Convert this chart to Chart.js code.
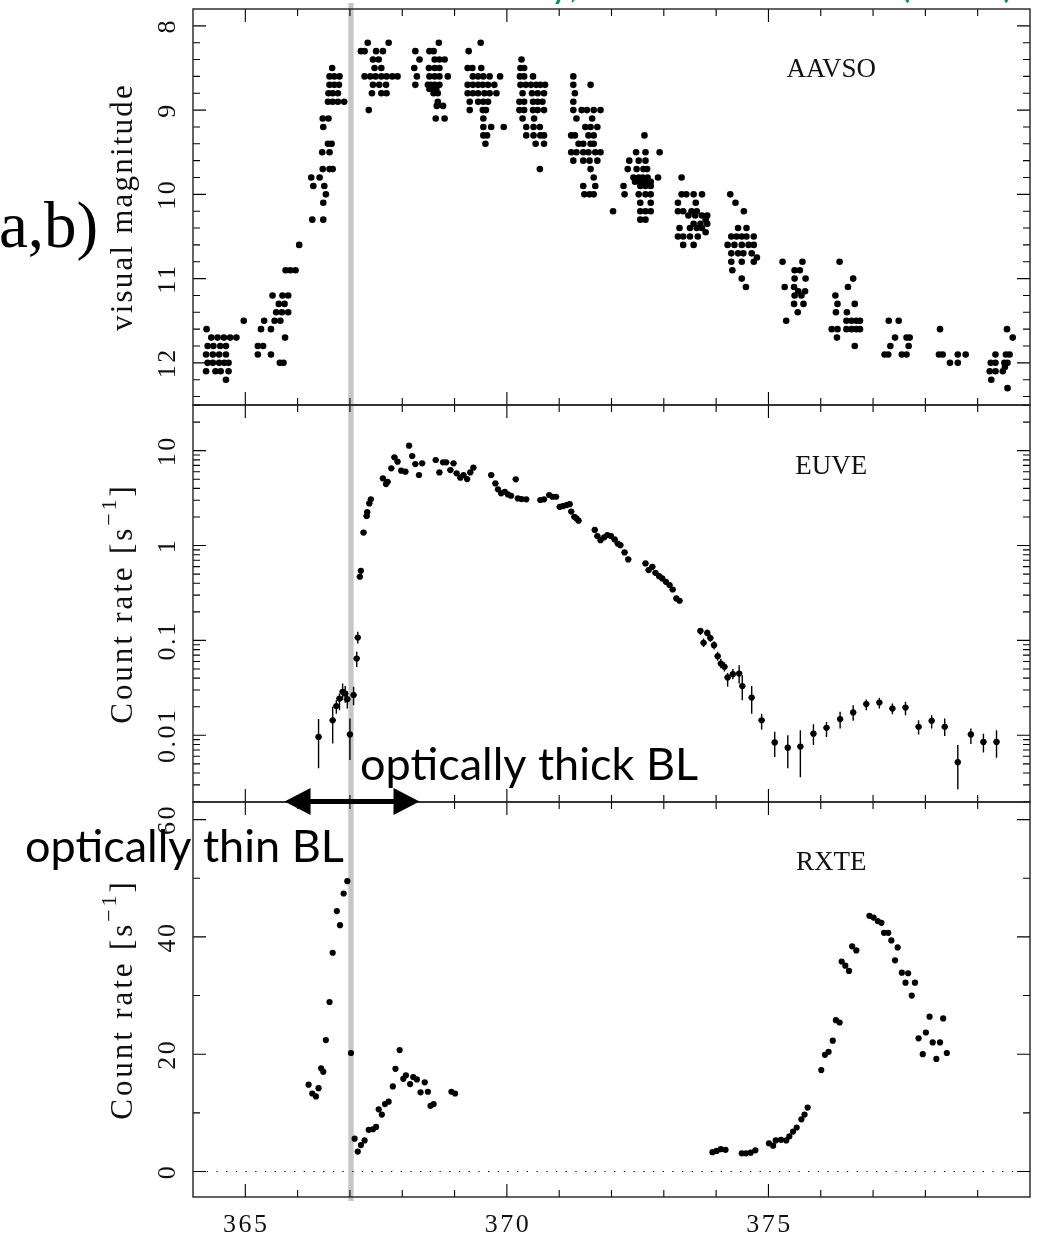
<!DOCTYPE html>
<html>
<head>
<meta charset="utf-8">
<script src="https://cdn.jsdelivr.net/npm/chart.js@4.4.1/dist/chart.umd.min.js"></script>
<style>
  html, body { margin: 0; padding: 0; background: #fff; }
  #wrap { position: relative; width: 1039px; height: 1234px; overflow: hidden; }
  #wrap canvas { position: absolute; left: 0; top: 0; }
</style>
</head>
<body>
<div id="wrap">
  <canvas id="c1" width="1039" height="1234"></canvas>
  <canvas id="c2" width="1039" height="1234"></canvas>
  <canvas id="c3" width="1039" height="1234"></canvas>
</div>
<script>
/* ---- AAVSO visual estimates: [day, magnitude] ---- */
const aavso = [
  [364.26,11.6],[364.35,11.7],[364.47,11.7],[364.59,11.7],[364.71,11.7],[364.83,11.7],
  [364.28,11.8],[364.39,11.8],[364.52,11.8],[364.63,11.8],
  [364.25,11.9],[364.38,11.9],[364.50,11.9],[364.63,11.9],
  [364.28,12.0],[364.38,12.0],[364.50,12.0],[364.60,12.0],[364.68,12.0],
  [364.25,12.1],[364.43,12.1],[364.53,12.1],[364.68,12.1],[364.63,12.2],[364.97,11.5],

  [365.24,11.8],[365.34,11.8],[365.24,11.9],[365.49,11.9],[365.30,11.6],[365.49,11.6],
  [365.36,11.5],[365.56,11.5],[365.67,11.5],[365.59,11.4],[365.70,11.4],[365.82,11.4],
  [365.64,11.3],[365.75,11.3],[365.52,11.2],[365.71,11.2],[365.82,11.2],[365.76,11.7],
  [365.66,12.0],[365.73,12.0],[365.77,10.9],[365.86,10.9],[365.96,10.9],[366.03,10.6],

  [366.28,10.3],[366.49,10.3],[366.54,10.0],[366.49,10.1],[366.26,9.8],[366.42,9.8],
  [366.30,9.9],[366.51,9.9],[366.48,9.7],[366.61,9.7],[366.67,9.7],[366.47,9.5],[366.61,9.5],
  [366.58,9.4],[366.65,9.4],[366.49,9.2],[366.48,9.1],[366.59,9.1],
  [366.66,8.5],[366.61,8.6],[366.70,8.6],[366.80,8.6],[366.61,8.7],[366.70,8.7],[366.79,8.7],
  [366.59,8.8],[366.67,8.8],[366.77,8.8],[366.58,8.9],[366.67,8.9],[366.77,8.9],[366.89,8.9],

  [367.34,8.2],[367.74,8.2],[367.21,8.3],[367.28,8.3],[367.50,8.3],[367.63,8.3],
  [367.44,8.4],[367.55,8.4],[367.47,8.5],[367.60,8.5],
  [367.28,8.6],[367.39,8.6],[367.49,8.6],[367.60,8.6],[367.70,8.6],[367.81,8.6],[367.91,8.6],
  [367.44,8.7],[367.56,8.7],[367.69,8.7],[367.42,8.8],[367.60,8.8],[367.70,8.8],[367.36,9.0],

  [368.70,8.2],[368.25,8.3],[368.52,8.3],[368.60,8.3],
  [368.33,8.4],[368.62,8.4],[368.71,8.4],[368.81,8.4],
  [368.23,8.5],[368.51,8.5],[368.62,8.5],[368.71,8.5],
  [368.28,8.6],[368.52,8.6],[368.62,8.6],[368.71,8.6],[368.87,8.6],
  [368.25,8.7],[368.49,8.7],[368.55,8.7],[368.62,8.7],[368.71,8.7],
  [368.52,8.75],[368.58,8.75],[368.65,8.75],[368.60,8.8],[368.68,8.8],[368.68,8.9],
  [368.66,8.95],[368.78,8.95],[368.64,9.1],[368.81,9.1],

  [369.50,8.2],[369.27,8.3],[369.25,8.5],[369.34,8.5],[369.51,8.5],
  [369.35,8.6],[369.45,8.6],[369.55,8.6],[369.67,8.6],[369.87,8.6],
  [369.25,8.7],[369.35,8.7],[369.45,8.7],[369.54,8.7],[369.64,8.7],[369.76,8.7],
  [369.25,8.8],[369.35,8.8],[369.45,8.8],[369.57,8.8],[369.67,8.8],[369.80,8.8],
  [369.29,8.9],[369.45,8.9],[369.55,8.9],[369.64,8.9],[369.29,9.0],[369.54,9.0],[369.60,9.0],
  [369.55,9.1],[369.55,9.2],[369.70,9.2],[369.94,9.2],[369.55,9.3],[369.62,9.3],[369.59,9.4],

  [370.28,8.4],[370.26,8.5],[370.33,8.5],[370.25,8.6],[370.33,8.6],[370.50,8.6],
  [370.26,8.7],[370.36,8.7],[370.46,8.7],[370.56,8.7],[370.64,8.7],[370.73,8.7],
  [370.30,8.8],[370.48,8.8],[370.59,8.8],[370.71,8.8],
  [370.24,8.9],[370.33,8.9],[370.50,8.9],[370.59,8.9],[370.68,8.9],
  [370.24,9.0],[370.33,9.0],[370.50,9.0],[370.59,9.0],[370.71,9.0],
  [370.30,9.1],[370.52,9.1],[370.37,9.2],[370.51,9.2],[370.63,9.2],
  [370.37,9.3],[370.51,9.3],[370.64,9.3],[370.71,9.3],[370.55,9.4],[370.71,9.4],[370.63,9.7],

  [371.27,8.6],[371.27,8.7],[371.60,8.7],[371.30,8.8],[371.27,8.9],
  [371.27,9.0],[371.43,9.0],[371.53,9.0],[371.66,9.0],[371.79,9.0],
  [371.33,9.1],[371.63,9.1],[371.50,9.2],[371.60,9.2],[371.73,9.2],
  [371.23,9.3],[371.30,9.3],[371.56,9.3],[371.66,9.3],
  [371.37,9.4],[371.46,9.4],[371.60,9.4],[371.66,9.4],
  [371.23,9.5],[371.33,9.5],[371.46,9.5],[371.56,9.5],[371.69,9.5],[371.79,9.5],
  [371.27,9.6],[371.46,9.6],[371.58,9.6],[371.73,9.6],[371.60,9.7],[371.66,9.8],
  [371.46,9.9],[371.69,9.9],[371.48,10.0],[371.58,10.0],[371.66,10.0],

  [372.03,10.2],[372.63,9.3],[372.47,9.5],[372.65,9.5],[372.92,9.5],
  [372.34,9.6],[372.52,9.6],[372.65,9.6],[372.31,9.7],[372.48,9.7],[372.61,9.7],[372.68,9.7],
  [372.42,9.8],[372.52,9.8],[372.60,9.8],[372.69,9.8],[372.89,9.8],
  [372.45,9.85],[372.55,9.85],[372.65,9.85],[372.75,9.85],
  [372.23,9.9],[372.55,9.9],[372.65,9.9],[372.75,9.9],
  [372.25,10.0],[372.52,10.0],[372.65,10.0],[372.75,10.0],[372.55,10.1],[372.75,10.1],
  [372.55,10.2],[372.65,10.2],[372.75,10.2],[372.55,10.3],[372.65,10.3],

  [373.34,9.8],[373.34,10.0],[373.43,10.0],[373.57,10.0],[373.73,10.0],[373.27,10.1],[373.61,10.1],
  [373.27,10.2],[373.37,10.2],[373.53,10.2],[373.63,10.2],
  [373.47,10.25],[373.60,10.25],[373.73,10.25],[373.83,10.25],[373.80,10.3],
  [373.57,10.35],[373.70,10.35],[373.83,10.35],[373.30,10.4],[373.50,10.4],[373.63,10.4],[373.73,10.4],
  [373.80,10.45],[373.27,10.5],[373.37,10.5],[373.50,10.5],[373.65,10.5],[373.37,10.6],[373.57,10.6],

  [374.27,10.0],[374.37,10.1],[374.53,10.2],[374.42,10.4],[374.58,10.4],
  [374.29,10.5],[374.39,10.5],[374.49,10.5],[374.58,10.5],[374.72,10.5],
  [374.22,10.6],[374.35,10.6],[374.49,10.6],[374.62,10.6],[374.72,10.6],
  [374.29,10.7],[374.42,10.7],[374.52,10.7],[374.68,10.7],[374.78,10.75],
  [374.29,10.8],[374.49,10.8],[374.72,10.8],[374.31,10.9],[374.49,11.0],[374.57,11.1],

  [375.27,10.8],[375.65,10.8],[375.50,10.9],[375.60,10.9],[375.50,11.0],[375.71,11.0],
  [375.31,11.1],[375.49,11.1],[375.57,11.15],[375.70,11.15],[375.50,11.2],[375.63,11.2],
  [375.49,11.3],[375.67,11.3],[375.56,11.4],[375.34,11.5],

  [376.36,10.8],[376.62,11.0],[376.52,11.1],[376.28,11.2],[376.32,11.3],[376.65,11.3],
  [376.29,11.4],[376.50,11.4],[376.49,11.5],[376.59,11.5],[376.68,11.5],[376.75,11.5],
  [376.21,11.6],[376.32,11.6],[376.49,11.6],[376.59,11.6],[376.68,11.6],[376.75,11.6],
  [376.31,11.7],[376.65,11.8],

  [377.30,11.5],[377.49,11.5],[377.42,11.7],[377.64,11.7],[377.70,11.7],[377.33,11.8],[377.68,11.8],
  [377.22,11.9],[377.29,11.9],[377.55,11.9],[377.64,11.9],

  [378.28,11.6],[378.26,11.9],[378.33,11.9],[378.62,11.9],[378.77,11.9],[378.47,12.0],[378.62,12.0],

  [379.56,11.6],[379.67,11.7],[379.34,11.9],[379.54,11.9],[379.61,11.9],
  [379.25,12.0],[379.34,12.0],[379.51,12.0],[379.57,12.0],
  [379.23,12.1],[379.34,12.1],[379.48,12.1],[379.52,12.05],[379.26,12.2],[379.57,12.3]
];

/* ---- EUVE count rates, bright part: [day, rate] ---- */
const euveBright = [
  [367.19,0.469],[367.21,0.542],[367.26,1.37],[367.32,2.05],[367.33,2.25],[367.37,2.78],[367.40,3.07],
  [367.63,5.1],[367.69,4.45],[367.72,4.7],[367.79,6.51],[367.85,8.51],[367.91,7.66],[367.98,6.15],[368.06,6.0],
  [368.13,11.3],[368.19,8.79],[368.25,7.23],[368.32,5.54],[368.38,7.35],
  [368.64,7.97],[368.71,5.9],[368.78,7.54],[368.84,7.54],[368.92,6.25],[368.98,7.35],[369.04,5.77],
  [369.11,5.19],[369.17,5.54],[369.24,5.02],[369.30,5.9],[369.36,6.62],
  [369.70,5.54],[369.78,4.52],[369.83,3.91],[369.89,3.55],[369.96,3.69],[370.02,3.46],[370.08,3.35],
  [370.17,4.99],[370.21,3.14],[370.28,3.09],[370.37,3.07],[370.64,3.02],[370.71,3.07],[370.81,3.41],
  [370.87,3.27],[370.94,3.27],[371.01,2.56],[371.07,2.6],[371.14,2.67],[371.20,2.73],[371.23,2.28],
  [371.29,2.01],[371.33,1.93],[371.37,1.83],
  [371.68,1.46],[371.73,1.26],[371.79,1.14],[371.86,1.22],[371.92,1.29],[371.99,1.26],[372.06,1.16],
  [372.12,1.05],[372.17,1.01],[372.25,0.847],[372.32,0.714],
  [372.65,0.648],[372.71,0.551],[372.78,0.597],[372.84,0.516],[372.91,0.476],[372.97,0.45],
  [373.04,0.415],[373.11,0.383],[373.17,0.344],[373.24,0.277],[373.30,0.262]
];

/* ---- EUVE count rates, faint part with 1-sigma range: [day, rate, low, high] ---- */
const euveFaint = [
  [366.40,0.0096,0.0045,0.0148],[366.67,0.0144,0.0082,0.0200],[366.74,0.0203,0.0169,0.0234],
  [366.80,0.0244,0.0184,0.0275],[366.86,0.0287,0.0234,0.0352],[366.91,0.0275,0.0220,0.0330],
  [366.95,0.0240,0.0191,0.0287],[367.00,0.0102,0.0055,0.0150],[367.07,0.0265,0.0207,0.0324],
  [367.13,0.0644,0.0526,0.0759],[367.15,0.107,0.0929,0.1233],
  [373.70,0.126,0.1138,0.1337],[373.76,0.0944,0.085,0.105],[373.83,0.120,0.110,0.130],
  [373.89,0.106,0.097,0.116],[373.96,0.089,0.080,0.098],[374.03,0.0682,0.061,0.076],
  [374.09,0.0571,0.051,0.064],[374.16,0.0527,0.047,0.059],[374.22,0.0407,0.0324,0.0453],
  [374.32,0.0441,0.039,0.050],[374.44,0.0448,0.0352,0.0548],[374.50,0.0330,0.0234,0.0430],
  [374.68,0.0250,0.0169,0.0330],[374.87,0.0144,0.0115,0.0169],[375.12,0.0084,0.0059,0.0109],
  [375.37,0.0074,0.0045,0.0100],[375.61,0.0076,0.0036,0.0113],[375.86,0.0104,0.0079,0.0131],
  [376.11,0.0120,0.0096,0.0138],[376.37,0.0148,0.0118,0.0177],[376.62,0.0174,0.0142,0.0207],
  [376.87,0.0213,0.0184,0.0238],[377.12,0.0221,0.0192,0.0248],[377.37,0.0191,0.0167,0.0216],
  [377.62,0.0196,0.0163,0.0225],[377.87,0.0123,0.0102,0.0144],[378.12,0.0142,0.0118,0.0163],
  [378.37,0.0123,0.0098,0.0150],[378.62,0.0052,0.0027,0.0079],[378.87,0.0102,0.0081,0.0118],
  [379.11,0.0085,0.0066,0.0104],[379.36,0.0085,0.0058,0.0113]
];
const EUVE_BIN = 0.06;   // half width of the time bins (days)

/* ---- RXTE count rates: [day, rate] ---- */
const rxte = [
  [366.21,14.8],[366.28,13.3],[366.35,12.8],[366.40,14.2],[366.45,17.6],[366.49,17.0],[366.54,22.4],
  [366.61,28.9],[366.67,37.3],[366.75,44.4],[366.81,42.0],[366.88,47.4],[366.95,49.5],
  [367.02,20.2],[367.09,5.6],[367.15,3.4],[367.21,4.5],[367.28,5.3],[367.36,7.1],[367.44,7.2],
  [367.50,7.6],[367.55,10.6],[367.61,9.7],[367.67,11.5],[367.74,11.9],[367.82,14.5],[367.87,17.5],
  [367.95,20.7],[368.02,15.8],[368.07,16.4],[368.15,14.9],[368.21,16.1],[368.28,15.7],[368.35,13.5],
  [368.43,15.2],[368.49,13.6],[368.54,11.2],[368.60,11.5],[368.94,13.6],[369.01,13.3],
  [373.93,3.3],[374.01,3.5],[374.09,3.8],[374.18,3.7],[374.49,3.1],[374.57,3.1],[374.66,3.2],[374.75,3.6],
  [375.01,4.8],[375.09,4.4],[375.14,5.3],[375.24,5.4],[375.34,5.3],[375.40,6.0],[375.47,6.8],
  [375.54,7.5],[375.63,8.9],[375.69,9.7],[375.75,10.9],
  [376.01,17.3],[376.08,19.9],[376.15,20.4],[376.23,22.3],[376.29,25.8],[376.36,25.4],[376.40,35.8],
  [376.47,35.1],[376.54,34.2],[376.60,38.4],[376.68,37.7],
  [376.93,43.6],[377.01,43.3],[377.09,42.7],[377.16,42.4],[377.21,40.7],[377.29,40.7],[377.35,39.4],
  [377.42,36.0],[377.47,38.2],[377.55,33.9],[377.62,32.2],[377.67,33.8],[377.74,30.0],[377.80,32.2],
  [377.87,22.7],[377.95,20.0],[378.01,23.7],[378.08,26.4],[378.14,22.0],[378.21,19.2],[378.28,22.0],
  [378.34,26.1],[378.41,20.2]
];

/* ---- axes ---- */
const dayTicks  = [365, 370, 375];
const magTicks  = [8, 9, 10, 11, 12];
const euveTicks = [0.01, 0.1, 1, 10];
const rxteTicks = [0, 20, 40, 60];
const MARK_DAY  = 367.02;            // grey marker line
const THICK_BL  = [365.75, 368.33];  // extent of the double arrow

const W = 1039, H = 1234;
const LEFT = 193, RIGHT = 1030;
const SERIF = '"Liberation Serif", "Times New Roman", serif';
const SANS = 'Lato, "Open Sans", sans-serif';

const pts = arr => arr.map(([x, y]) => ({ x, y }));

function minorLinear(from, to, step, skip) {
  const out = [];
  for (let v = from; v <= to + 1e-9; v += step) {
    const r = Math.round(v * 100) / 100;
    if (!skip(r)) out.push(r);
  }
  return out;
}
function minorLog(min, max) {
  const out = [];
  for (let d = 0.001; d <= 10; d *= 10)
    for (let k = 2; k <= 9; k++) { const v = k * d; if (v > min && v < max) out.push(v); }
  return out;
}

function rotText(ctx, text, x, y, font, spacing) {
  ctx.save();
  ctx.translate(x, y);
  ctx.rotate(-Math.PI / 2);
  ctx.font = font;
  ctx.letterSpacing = spacing || '0px';
  ctx.textAlign = 'center';
  ctx.textBaseline = 'alphabetic';
  ctx.fillText(text, 0, 0);
  ctx.restore();
}

// rotated axis title, optional superscript piece
function rotTitle(ctx, title, x, yc) {
  ctx.save();
  ctx.translate(x, yc);
  ctx.rotate(-Math.PI / 2);
  ctx.letterSpacing = title.spacing;
  ctx.textBaseline = 'alphabetic';
  ctx.textAlign = 'left';
  let total = 0;
  title.parts.forEach(p => { ctx.font = p.size + 'px ' + SERIF; p.w = ctx.measureText(p.text).width; total += p.w; });
  let cx = -total / 2;
  title.parts.forEach(p => { ctx.font = p.size + 'px ' + SERIF; ctx.fillText(p.text, cx, -(p.rise || 0)); cx += p.w; });
  ctx.restore();
}

function framePlugin(cfg) {
  return {
    id: 'frame_' + cfg.key,
    beforeDatasetsDraw(chart) {
      const { ctx, chartArea: a, scales: { x, y } } = chart;
      ctx.save();
      if (cfg.key === 'aavso') {
        ctx.strokeStyle = '#c6c6c6';
        ctx.lineWidth = 5.3;
        const px = x.getPixelForValue(MARK_DAY);
        ctx.beginPath(); ctx.moveTo(px, 3); ctx.lineTo(px, 1201); ctx.stroke();
      }
      if (cfg.key === 'euve') {
        ctx.strokeStyle = '#000';
        ctx.lineWidth = 1.4;
        ctx.beginPath();
        euveFaint.forEach(([t, r, lo, hi]) => {
          const px = x.getPixelForValue(t);
          ctx.moveTo(px, y.getPixelForValue(lo)); ctx.lineTo(px, y.getPixelForValue(hi));
          const py = y.getPixelForValue(r);
          ctx.moveTo(x.getPixelForValue(t - EUVE_BIN), py); ctx.lineTo(x.getPixelForValue(t + EUVE_BIN), py);
        });
        euveBright.forEach(([t, r]) => {
          const py = y.getPixelForValue(r);
          ctx.moveTo(x.getPixelForValue(t - EUVE_BIN), py); ctx.lineTo(x.getPixelForValue(t + EUVE_BIN), py);
        });
        ctx.stroke();
      }
      if (cfg.key === 'rxte') {
        ctx.strokeStyle = '#000';
        ctx.lineWidth = 1;
        ctx.setLineDash([1.3, 8.4]);
        const py = y.getPixelForValue(0);
        ctx.beginPath(); ctx.moveTo(a.left + 4, py); ctx.lineTo(a.right, py); ctx.stroke();
      }
      ctx.restore();
    },
    afterDatasetsDraw(chart) {
      const { ctx, chartArea: a, scales: { x, y } } = chart;
      ctx.save();
      ctx.strokeStyle = '#000';
      ctx.lineWidth = 1.1;
      ctx.beginPath();
      for (let d = 365; d < 380; d++) {
        const px = x.getPixelForValue(d);
        const len = d % 5 === 0 ? 13 : 7;
        ctx.moveTo(px, a.top); ctx.lineTo(px, a.top + len);
        ctx.moveTo(px, a.bottom); ctx.lineTo(px, a.bottom - len);
      }
      cfg.major.forEach(v => {
        const py = y.getPixelForValue(v);
        ctx.moveTo(a.left, py); ctx.lineTo(a.left + 13, py);
        ctx.moveTo(a.right, py); ctx.lineTo(a.right - 13, py);
      });
      cfg.minor.forEach(v => {
        const py = y.getPixelForValue(v);
        ctx.moveTo(a.left, py); ctx.lineTo(a.left + 7, py);
        ctx.moveTo(a.right, py); ctx.lineTo(a.right - 7, py);
      });
      ctx.stroke();
      ctx.lineWidth = 1.4;
      ctx.strokeStyle = '#222';
      ctx.strokeRect(a.left, a.top, a.right - a.left, a.bottom - a.top);

      ctx.fillStyle = '#111';
      const tickFont = '26px ' + SERIF;
      cfg.major.forEach(v => rotText(ctx, String(v), a.left - 18, y.getPixelForValue(v), tickFont, '2.5px'));
      rotTitle(ctx, cfg.title, a.left - 61, (a.top + a.bottom) / 2);

      ctx.font = '27px ' + SERIF;
      ctx.letterSpacing = '0px';
      ctx.textAlign = 'center';
      ctx.fillText(cfg.name, x.getPixelForValue(376.2), y.getPixelForValue(cfg.nameY));

      if (cfg.key === 'rxte') {
        ctx.font = tickFont;
        ctx.letterSpacing = '2.5px';
        dayTicks.forEach(d => ctx.fillText(String(d), x.getPixelForValue(d) + 1, a.bottom + 35));
      }
      ctx.restore();
    },
    afterDraw(chart) {
      if (cfg.key !== 'rxte') return;
      const { ctx, scales: { x } } = chart;
      ctx.save();
      ctx.fillStyle = '#000';
      // double arrow across the panel boundary
      const x0 = x.getPixelForValue(THICK_BL[0]), x1 = x.getPixelForValue(THICK_BL[1]);
      const ay = 801.5, head = 26, half = 13.5;
      ctx.fillRect(x0 + head - 2, ay - 2.5, x1 - x0 - 2 * head + 4, 5);
      ctx.beginPath();
      ctx.moveTo(x0, ay); ctx.lineTo(x0 + head, ay - half); ctx.lineTo(x0 + head, ay + half); ctx.closePath();
      ctx.moveTo(x1, ay); ctx.lineTo(x1 - head, ay - half); ctx.lineTo(x1 - head, ay + half); ctx.closePath();
      ctx.fill();

      ctx.font = '45px ' + SANS;
      ctx.textAlign = 'left';
      ctx.fillText('optically thick BL', 360, 780);
      ctx.fillText('optically thin BL', 25, 862);

      ctx.font = '65px ' + SERIF;
      ctx.fillText('a,b)', -1, 247);

      ctx.fillStyle = '#00994d';
      ctx.font = '40px ' + SANS;
      ctx.textAlign = 'right';
      ctx.fillText('(2003)', 1014, -3);
      ctx.fillText('Wheatley, Mauche & Mattei', 893, -3);
      ctx.restore();
    }
  };
}

function makeChart(id, top, bottom, yScale, datasets, cfg) {
  return new Chart(document.getElementById(id), {
    type: 'scatter',
    data: { datasets },
    options: {
      responsive: false,
      animation: false,
      devicePixelRatio: 1,
      events: [],
      layout: { padding: { left: LEFT, right: W - RIGHT, top, bottom: H - bottom } },
      plugins: { legend: { display: false }, tooltip: { enabled: false } },
      scales: {
        x: { type: 'linear', min: 364, max: 380, display: false },
        y: Object.assign({ display: false }, yScale)
      }
    },
    plugins: [framePlugin(cfg)]
  });
}

const dot = (data, r) => ({
  data, pointRadius: r, pointHoverRadius: r,
  pointBackgroundColor: '#000', pointBorderColor: '#000', pointBorderWidth: 0, showLine: false
});

const rateTitle = () => ({
  spacing: '2.9px',
  parts: [{ text: 'Count rate [s', size: 31 }, { text: '\u22121', size: 22, rise: 16 }, { text: ']', size: 31 }]
});

makeChart('c1', 9, 405,
  { type: 'linear', min: 7.8, max: 12.5, reverse: true },
  [dot(pts(aavso), 3.3)],
  { key: 'aavso', major: magTicks, minor: minorLinear(8.2, 12.4, 0.2, v => Number.isInteger(v)),
    title: { spacing: '2.2px', parts: [{ text: 'visual magnitude', size: 31 }] }, name: 'AAVSO', nameY: 8.61 });

makeChart('c2', 405, 802,
  { type: 'logarithmic', min: 0.00198, max: 30.3 },
  [dot(pts(euveBright), 3.1), dot(pts(euveFaint), 3.1)],
  { key: 'euve', major: euveTicks, minor: minorLog(0.00198, 30.3),
    title: rateTitle(), name: 'EUVE', nameY: 5.68 });

makeChart('c3', 802, 1197,
  { type: 'linear', min: -4.35, max: 63 },
  [dot(pts(rxte), 3.1)],
  { key: 'rxte', major: rxteTicks, minor: [10, 30, 50],
    title: rateTitle(), name: 'RXTE', nameY: 51.4 });
</script>
</body>
</html>
